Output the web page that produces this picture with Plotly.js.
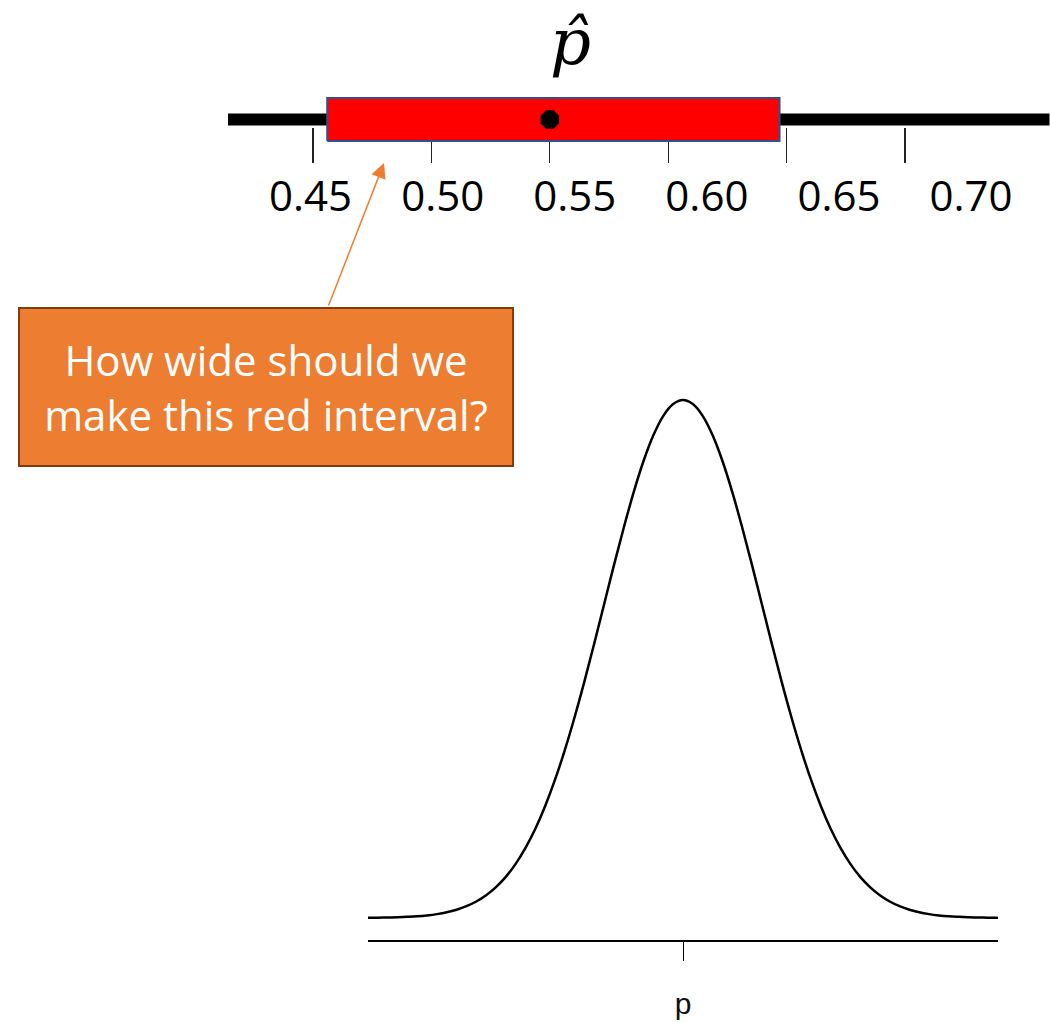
<!DOCTYPE html>
<html>
<head>
<meta charset="utf-8">
<script src="https://cdn.plot.ly/plotly-3.0.1.min.js"></script>
<style>
  html, body { margin: 0; padding: 0; background: #ffffff; }
  #chart { width: 1050px; height: 1023px; }
</style>
</head>
<body>
<div id="chart"></div>
<script>
// Sample proportion and the interval drawn around it
const pHat = 0.55;
const intervalLow = 0.456;
const intervalHigh = 0.647;

// Extent of the number line
const numberLine = [0.414, 0.761];

// Tick marks on the number line and their labels
const tickValues = [0.45, 0.50, 0.55, 0.60, 0.65, 0.70];
const tickLabels = ['0.45', '0.50', '0.55', '0.60', '0.65', '0.70'];

// Sampling distribution of the proportion, in standard units
const zValues = [
  -4, -3.875, -3.75, -3.625, -3.5, -3.375, -3.25, -3.125, -3, -2.875, -2.75, -2.625, -2.5, -2.375, -2.25, -2.125,
  -2, -1.875, -1.75, -1.625, -1.5, -1.375, -1.25, -1.125, -1, -0.875, -0.75, -0.625, -0.5, -0.375, -0.25, -0.125,
  0,
  0.125, 0.25, 0.375, 0.5, 0.625, 0.75, 0.875, 1, 1.125, 1.25, 1.375, 1.5, 1.625, 1.75, 1.875,
  2, 2.125, 2.25, 2.375, 2.5, 2.625, 2.75, 2.875, 3, 3.125, 3.25, 3.375, 3.5, 3.625, 3.75, 3.875, 4
];
const density = [
  0.0001, 0.0002, 0.0004, 0.0006, 0.0009, 0.0013, 0.0020, 0.0030, 0.0044, 0.0064, 0.0091, 0.0127, 0.0175, 0.0238, 0.0317, 0.0417,
  0.0540, 0.0688, 0.0863, 0.1065, 0.1295, 0.1550, 0.1826, 0.2119, 0.2420, 0.2721, 0.3011, 0.3282, 0.3521, 0.3719, 0.3867, 0.3958,
  0.3989,
  0.3958, 0.3867, 0.3719, 0.3521, 0.3282, 0.3011, 0.2721, 0.2420, 0.2119, 0.1826, 0.1550, 0.1295, 0.1065, 0.0863, 0.0688,
  0.0540, 0.0417, 0.0317, 0.0238, 0.0175, 0.0127, 0.0091, 0.0064, 0.0044, 0.0030, 0.0020, 0.0013, 0.0009, 0.0006, 0.0004, 0.0002, 0.0001
];
const centerValue = [0];
const centerLabel = ['p'];

const calloutText = 'How wide should we<br>make this red interval?';

// Page size and pixel -> paper helpers
const W = 1050, H = 1023;
const fx = v => v / W;
const fy = v => 1 - v / H;

const traces = [
  {
    // thick number line
    x: numberLine, y: [0, 0],
    xaxis: 'x', yaxis: 'y',
    mode: 'lines',
    line: { color: '#000000', width: 12 },
    hoverinfo: 'skip', showlegend: false
  },
  {
    // the interval around p-hat
    x: [intervalLow, intervalHigh, intervalHigh, intervalLow, intervalLow],
    y: [-1, -1, 1, 1, -1],
    xaxis: 'x', yaxis: 'y',
    mode: 'lines', fill: 'toself',
    fillcolor: '#FF0000',
    line: { color: '#2F528F', width: 2 },
    hoverinfo: 'skip', showlegend: false
  },
  {
    // the point estimate
    x: [pHat], y: [0],
    xaxis: 'x', yaxis: 'y',
    mode: 'markers',
    marker: { symbol: 'octagon', size: 20, color: '#000000' },
    hoverinfo: 'skip', showlegend: false
  },
  {
    // registers the label axis of the number line
    x: [], y: [],
    xaxis: 'x2', yaxis: 'y',
    mode: 'markers', hoverinfo: 'skip', showlegend: false
  },
  {
    // sampling distribution curve
    x: zValues, y: density,
    xaxis: 'x3', yaxis: 'y3',
    mode: 'lines',
    line: { color: '#000000', width: 2.5, shape: 'spline' },
    hoverinfo: 'skip', showlegend: false
  }
];

const layout = {
  width: W, height: H,
  margin: { l: 0, r: 0, t: 0, b: 0, pad: 0 },
  paper_bgcolor: '#ffffff', plot_bgcolor: 'rgba(0,0,0,0)',
  showlegend: false,
  // number line: tick marks
  xaxis: {
    domain: [fx(228), 1],
    range: [0.4141, 0.7612],
    anchor: 'free', position: fy(127), side: 'bottom',
    tickmode: 'array', tickvals: tickValues,
    ticks: 'outside', ticklen: 35, tickwidth: 1.2, tickcolor: '#222222',
    showticklabels: false, showline: false, showgrid: false, zeroline: false,
    layer: 'below traces', fixedrange: true
  },
  // number line: tick labels
  xaxis2: {
    overlaying: 'x',
    range: [0.41874, 0.72987],
    anchor: 'free', position: fy(168), side: 'bottom',
    tickmode: 'array', tickvals: tickValues, ticktext: tickLabels,
    ticks: '', showline: false, showgrid: false, zeroline: false,
    tickfont: { family: 'Open Sans, sans-serif', size: 42, color: '#000000' },
    fixedrange: true
  },
  yaxis: {
    domain: [fy(150), fy(90)],
    range: [-1.412, 1.366],
    visible: false, fixedrange: true
  },
  // sampling distribution panel
  xaxis3: {
    domain: [fx(368), fx(998)],
    range: [-4, 4],
    anchor: 'y3',
    showline: true, linecolor: '#000000', linewidth: 1.5,
    tickmode: 'array', tickvals: centerValue, ticktext: centerLabel,
    ticks: 'outside', ticklen: 19, tickwidth: 1, tickcolor: '#000000',
    ticklabelstandoff: 17,
    tickfont: { family: 'Liberation Sans, Arial, sans-serif', size: 30, color: '#111111' },
    showgrid: false, zeroline: false, fixedrange: true
  },
  yaxis3: {
    domain: [fy(940), fy(370)],
    range: [-0.01694, 0.4220],
    anchor: 'x3',
    visible: false, fixedrange: true
  },
  annotations: [
    {
      text: '<i>p\u0302</i>',
      xref: 'paper', yref: 'paper', x: fx(570), y: fy(42),
      xanchor: 'center', yanchor: 'middle', showarrow: false,
      font: { family: 'DejaVu Serif, serif', size: 64, color: '#000000' }
    },
    {
      text: calloutText,
      xref: 'paper', yref: 'paper', x: fx(266), y: fy(387),
      xanchor: 'center', yanchor: 'middle', showarrow: false,
      width: 492, height: 156, align: 'center', valign: 'middle',
      bgcolor: '#ED7D31', bordercolor: '#843C0C', borderwidth: 2, borderpad: 0,
      font: { family: 'Open Sans, sans-serif', size: 42, color: '#ffffff' }
    },
    {
      text: '',
      xref: 'paper', yref: 'paper', x: fx(384), y: fy(163),
      ax: -56, ay: 144, axref: 'pixel', ayref: 'pixel',
      showarrow: true, arrowhead: 2, arrowsize: 2, arrowwidth: 1.5,
      arrowcolor: '#ED7D31', standoff: 0, startstandoff: 0
    }
  ]
};

Plotly.newPlot('chart', traces, layout, { staticPlot: true, displayModeBar: false });
</script>
</body>
</html>
